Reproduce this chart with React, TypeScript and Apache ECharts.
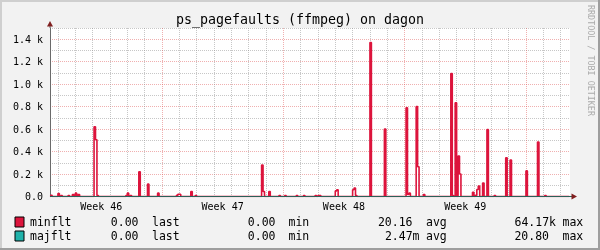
import React, { useEffect, useRef } from 'react';
import * as echarts from 'echarts';

const FONT = "'DejaVu Sans Mono', monospace";
const CRIMSON = '#DC143C';
const TEAL = '#20B2AA';
const ZERO_LINE = '#2a6058';
const GRID = 'rgba(143,143,143,0.5)';
const MGRID = 'rgba(222,79,79,0.45)';
const AXIS = '#6a6a6a';
const ARROW = '#801f1f';

const titleText = 'ps_pagefaults (ffmpeg) on dagon';
const watermarkText = 'RRDTOOL / TOBI OETIKER';

// time axis in hours since the left edge of the graph (30 days)
const spanHours = 720;
const sampleHours = 2;

// minflt samples (hour of sample, value)
const minfltHours = [
  2, 12, 16, 26, 32, 36, 40, 62, 64, 66, 106, 108, 112, 124, 136, 150,
  176, 178, 180, 196, 202, 294, 296, 304, 318, 326, 342, 352, 368, 372, 374,
  396, 398, 420, 422, 424, 444, 464, 494, 496, 498, 508, 510, 518,
  556, 558, 562, 566, 568, 586, 590, 592, 594, 600, 606, 616, 632, 638, 660, 676, 686,
];
const minfltValues = [
  10, 27, 9, 9, 18, 30, 18, 620, 505, 9, 9, 30, 9, 220, 110, 30,
  10, 20, 20, 45, 9, 280, 45, 45, 9, 9, 9, 9, 9, 9, 9,
  50, 60, 60, 75, 9, 1370, 600, 790, 18, 30, 800, 265, 18,
  1095, 9, 835, 360, 200, 38, 10, 62, 94, 120, 595, 9, 345, 325, 228, 485, 9,
];

const majfltHours = [0, 720];
const majfltValues = [0, 0];

const dayLineHours = [
  11, 35, 59, 83, 107, 131, 155, 179, 203, 227, 251, 275, 299, 323, 347,
  371, 395, 419, 443, 467, 491, 515, 539, 563, 587, 611, 635, 659, 683, 707,
];
const weekLabelHours = [71, 239, 407, 575];
const weekLabels = ['Week 46', 'Week 47', 'Week 48', 'Week 49'];

const yTickValues = [0, 200, 400, 600, 800, 1000, 1200, 1400];
const yTickLabels = ['0.0', '0.2 k', '0.4 k', '0.6 k', '0.8 k', '1.0 k', '1.2 k', '1.4 k'];

const legendNames = ['minflt', 'majflt'];
const legendColors = [CRIMSON, TEAL];
const lastValues = ['0.00', '0.00'];
const minValues = ['0.00', '0.00'];
const avgValues = ['20.16', '2.47m'];
const maxValues = ['64.17k', '20.80'];

const CHAR_W = 7;

function txt(text: string, x: number, y: number, size: number, align: string, fill = '#000', extra: any = {}) {
  return {
    type: 'text',
    x,
    y,
    silent: true,
    ...extra,
    style: {
      text,
      fill,
      font: `${size}px 'DejaVu Sans Mono', monospace`,
      fontSize: size,
      fontFamily: FONT,
      textAlign: align,
      align,
      textVerticalAlign: 'middle',
      verticalAlign: 'middle',
    },
  };
}

function endsWithUnit(s: string) {
  return /[a-zA-Z]$/.test(s);
}

export default function App() {
  const ref = useRef<HTMLDivElement>(null);

  useEffect(() => {
    if (!ref.current) return;
    const chart = echarts.init(ref.current, undefined, { renderer: 'svg' });

    const minfltMap = new Map<number, number>();
    minfltHours.forEach((h, i) => minfltMap.set(h, minfltValues[i]));
    const minfltData: number[][] = [[0, 0]];
    for (let h = 0; h < spanHours; h += sampleHours) {
      minfltData.push([h + 1, minfltMap.get(h) ?? 0]);
    }
    const majfltData = majfltHours.map((h, i) => [h, majfltValues[i]]);

    const graphics: any[] = [];
    // background & 3D frame
    graphics.push({ type: 'rect', shape: { x: 0, y: 0, width: 600, height: 250 }, style: { fill: '#F2F2F2' }, z: -10, silent: true });
    graphics.push({ type: 'rect', shape: { x: 0, y: 0, width: 600, height: 2 }, style: { fill: '#CFCFCF' }, z: -9, silent: true });
    graphics.push({ type: 'rect', shape: { x: 0, y: 0, width: 2, height: 250 }, style: { fill: '#CFCFCF' }, z: -9, silent: true });
    graphics.push({ type: 'rect', shape: { x: 0, y: 248, width: 600, height: 2 }, style: { fill: '#9E9E9E' }, z: -9, silent: true });
    graphics.push({ type: 'rect', shape: { x: 598, y: 0, width: 2, height: 250 }, style: { fill: '#9E9E9E' }, z: -9, silent: true });
    // plot canvas
    graphics.push({ type: 'rect', shape: { x: 50, y: 28, width: 520, height: 168.5 }, style: { fill: '#FFFFFF' }, z: -8, silent: true });
    // arrows
    graphics.push({ type: 'line', shape: { x1: 50, y1: 28, x2: 50, y2: 25 }, style: { stroke: AXIS, lineWidth: 1 }, z: 10, silent: true });
    graphics.push({ type: 'polygon', shape: { points: [[47, 26.5], [50, 21], [53, 26.5]] }, style: { fill: ARROW }, z: 10, silent: true });
    graphics.push({ type: 'line', shape: { x1: 570, y1: 196.5, x2: 573, y2: 196.5 }, style: { stroke: ZERO_LINE, lineWidth: 1 }, z: 10, silent: true });
    graphics.push({ type: 'polygon', shape: { points: [[571.5, 193.5], [577, 196.5], [571.5, 199.5]] }, style: { fill: ARROW }, z: 10, silent: true });

    // title & watermark
    graphics.push(txt(titleText, 300, 19, 13.3, 'center'));
    graphics.push(txt(watermarkText, 591, 5, 8.4, 'left', '#ABABAB', { rotation: -Math.PI / 2 }));

    // legend
    legendNames.forEach((name, i) => {
      const y = 222 + i * 14;
      graphics.push({ type: 'rect', shape: { x: 15, y: y - 5, width: 9, height: 10 }, style: { fill: legendColors[i], stroke: '#000', lineWidth: 1 }, silent: true });
      graphics.push(txt(name, 30, y, 11.5, 'left'));
      graphics.push(txt(lastValues[i], 138.5 + (endsWithUnit(lastValues[i]) ? CHAR_W : 0), y, 11.5, 'right'));
      graphics.push(txt('last', 152, y, 11.5, 'left'));
      graphics.push(txt(minValues[i], 275.5 + (endsWithUnit(minValues[i]) ? CHAR_W : 0), y, 11.5, 'right'));
      graphics.push(txt('min', 288.5, y, 11.5, 'left'));
      graphics.push(txt(avgValues[i], 412.5 + (endsWithUnit(avgValues[i]) ? CHAR_W : 0), y, 11.5, 'right'));
      graphics.push(txt('avg', 426, y, 11.5, 'left'));
      graphics.push(txt(maxValues[i], 549 + (endsWithUnit(maxValues[i]) ? CHAR_W : 0), y, 11.5, 'right'));
      graphics.push(txt('max', 562.5, y, 11.5, 'left'));
    });

    const dayColors = [GRID, GRID, GRID, GRID, GRID, GRID, MGRID];

    chart.setOption({
      animation: false,
      backgroundColor: 'transparent',
      grid: { left: 50, right: 30, top: 28, bottom: 53.5, containLabel: false, outerBoundsMode: 'none' },
      xAxis: {
        type: 'value',
        min: 0,
        max: spanHours,
        axisLine: { show: false },
        axisTick: { show: false, customValues: dayLineHours },
        axisLabel: {
          customValues: weekLabelHours,
          formatter: (v: number) => {
            const i = weekLabelHours.indexOf(v);
            return i >= 0 ? weekLabels[i] : '';
          },
          fontFamily: FONT,
          fontSize: 10,
          color: '#000',
          margin: 5,
        },
        splitLine: { show: true, lineStyle: { color: dayColors, type: [1, 1], width: 1 } },
      },
      yAxis: {
        type: 'value',
        min: 0,
        max: 1500,
        interval: 100,
        axisLine: { show: true, lineStyle: { color: AXIS, width: 1 } },
        axisTick: { show: false },
        axisLabel: {
          formatter: (v: number) => {
            const i = yTickValues.indexOf(v);
            return i >= 0 ? yTickLabels[i] : '';
          },
          showMaxLabel: false,
          fontFamily: FONT,
          fontSize: 10,
          color: '#000',
          margin: 7,
        },
        splitLine: { show: true, lineStyle: { color: [MGRID, GRID], type: [1, 1], width: 1 } },
      },
      graphic: { elements: graphics },
      series: [
        {
          name: 'minflt',
          type: 'line',
          step: 'start',
          data: minfltData,
          showSymbol: false,
          silent: true,
          z: 3,
          lineStyle: { color: CRIMSON, width: 1.6 },
          itemStyle: { color: CRIMSON },
        },
        {
          name: 'majflt',
          type: 'line',
          data: majfltData,
          showSymbol: false,
          silent: true,
          z: 4,
          lineStyle: { color: ZERO_LINE, width: 1.2 },
          itemStyle: { color: TEAL },
        },
      ],
    });

    return () => chart.dispose();
  }, []);

  return <div ref={ref} style={{ position: 'fixed', left: 0, top: 0, width: 600, height: 250 }} />;
}
